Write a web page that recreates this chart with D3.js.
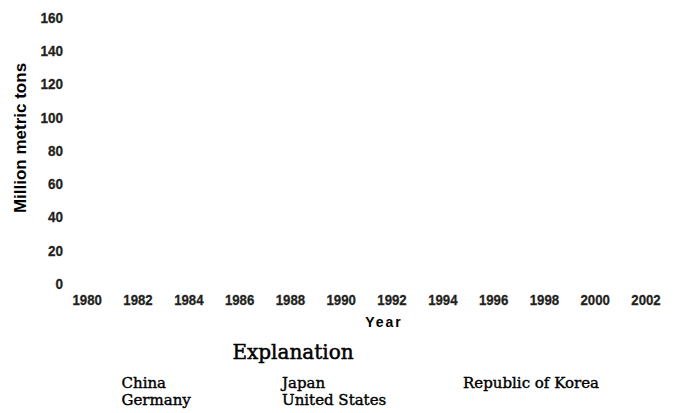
<!DOCTYPE html>
<html>
<head>
<meta charset="utf-8">
<script src="https://cdn.jsdelivr.net/npm/d3@7"></script>
<style>
  html, body { margin: 0; padding: 0; background: #fff; }
  svg { display: block; }
  .tick text { font-family: "Liberation Sans", Arial, sans-serif; font-weight: bold; font-size: 15px; fill: #231f20; stroke: #231f20; stroke-width: 0.3px; }
</style>
</head>
<body>
<script>
// ---- data ----
const years = [1980, 1982, 1984, 1986, 1988, 1990, 1992, 1994, 1996, 1998, 2000, 2002];
const yTicks = [0, 20, 40, 60, 80, 100, 120, 140, 160];
const seriesNames = ["China", "Japan", "Republic of Korea", "Germany", "United States"];
// No data lines are visible in the reference picture, so every series is empty.
const china = [];
const japan = [];
const korea = [];
const germany = [];
const unitedStates = [];
const seriesValues = [china, japan, korea, germany, unitedStates];

const W = 676, H = 413;
const svg = d3.select("body").append("svg").attr("width", W).attr("height", H);

const x = d3.scaleLinear().domain([1980, 2002]).range([86.7, 645.5]);
const y = d3.scaleLinear().domain([0, 160]).range([283, 17]);

// y axis (labels only)
const yAxis = svg.append("g")
  .attr("transform", "translate(63,0)")
  .call(d3.axisLeft(y).tickValues(yTicks).tickSize(0).tickPadding(0).tickFormat(d3.format("d")));
yAxis.select(".domain").remove();
yAxis.selectAll(".tick text").attr("x", 0).attr("dy", "0.36em").attr("transform", "scale(0.9,1)");

// x axis (labels only)
const xAxis = svg.append("g")
  .attr("transform", "translate(0,305)")
  .call(d3.axisBottom(x).tickValues(years).tickSize(0).tickPadding(0).tickFormat(d3.format("d")));
xAxis.select(".domain").remove();
xAxis.selectAll(".tick text").attr("y", 0).attr("dy", 0).attr("transform", "scale(0.88,1)");

// lines (none visible)
const line = d3.line().x((d, i) => x(years[i])).y(d => y(d));
svg.append("g").selectAll("path").data(seriesValues.filter(s => s.length)).join("path")
  .attr("d", line).attr("fill", "none").attr("stroke", "#000");

// axis titles
svg.append("text")
  .attr("transform", "translate(25.5,138) rotate(-90)")
  .attr("text-anchor", "middle")
  .style("font-family", "'Liberation Sans', Arial, sans-serif")
  .style("font-weight", "bold").style("font-size", "17px").attr("fill", "#000")
  .text("Million metric tons");

svg.append("text")
  .attr("x", 384).attr("y", 327)
  .attr("text-anchor", "middle")
  .style("font-family", "'Liberation Sans', Arial, sans-serif")
  .style("font-weight", "bold").style("font-size", "14px").style("letter-spacing", "2px").attr("fill", "#000")
  .text("Year");

// legend
svg.append("text")
  .attr("x", 293).attr("y", 359)
  .attr("text-anchor", "middle")
  .style("font-family", "'DejaVu Serif', serif")
  .style("font-size", "20px").attr("fill", "#000")
  .attr("stroke", "#000").attr("stroke-width", 0.5)
  .text("Explanation");

const legendPos = [
  {x: 121.5, y: 388},
  {x: 282, y: 388},
  {x: 463, y: 388},
  {x: 121.5, y: 405},
  {x: 282, y: 405}
];
svg.append("g").selectAll("text").data(seriesNames).join("text")
  .attr("x", (d, i) => legendPos[i].x)
  .attr("y", (d, i) => legendPos[i].y)
  .style("font-family", "'DejaVu Serif', serif")
  .style("font-size", "15px").attr("fill", "#000")
  .attr("stroke", "#000").attr("stroke-width", 0.4)
  .text(d => d);
</script>
</body>
</html>
